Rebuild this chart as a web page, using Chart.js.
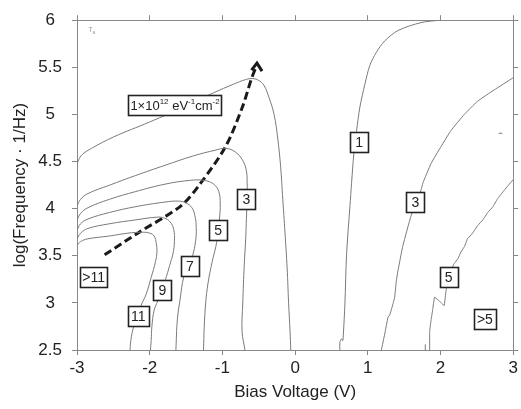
<!DOCTYPE html>
<html><head><meta charset="utf-8">
<script src="https://cdn.jsdelivr.net/npm/chart.js@4.4.0/dist/chart.umd.min.js"></script>
<style>html,body{margin:0;padding:0;background:#fff}#wrap{width:521px;height:409px}</style>
</head><body><div id="wrap"><canvas id="c" width="521" height="409"></canvas></div>
<script>
// ---- axes ----
const xTicks = [-3,-2,-1,0,1,2,3];
const xTickLabels = ['-3','-2','-1','0','1','2','3'];
const yTicks = [2.5,3,3.5,4,4.5,5,5.5,6];
const yTickLabels = ['2.5','3','3.5','4','4.5','5','5.5','6'];

// ---- contour lines (bias V, log f) ----
const c1LeftX = [-3.0,-2.97,-2.92,-2.8,-2.5,-2.0,-1.5,-1.12,-0.85,-0.68,-0.58,-0.5,-0.43,-0.36,-0.29,-0.24,-0.2,-0.17,-0.14,-0.11,-0.09,-0.07,-0.06];
const c1LeftY = [4.47,4.53,4.58,4.64,4.76,4.92,5.09,5.23,5.32,5.37,5.38,5.36,5.31,5.18,5.0,4.75,4.45,4.1,3.75,3.37,3.0,2.7,2.5];

const c3LeftX = [-3.0,-2.95,-2.85,-2.55,-2.2,-1.79,-1.4,-1.1,-0.95,-0.82,-0.72,-0.67,-0.66,-0.66,-0.67,-0.68,-0.7,-0.72,-0.73,-0.69];
const c3LeftY = [4.03,4.1,4.16,4.25,4.35,4.46,4.56,4.62,4.64,4.6,4.51,4.4,4.27,4.1,3.9,3.68,3.4,3.0,2.7,2.5];

const c5LeftX = [-3.0,-2.95,-2.85,-2.55,-2.2,-1.79,-1.45,-1.25,-1.12,-1.05,-1.03,-1.04,-1.06,-1.09,-1.14,-1.2,-1.23,-1.25,-1.26];
const c5LeftY = [3.875,3.95,4.01,4.1,4.18,4.26,4.3,4.3,4.26,4.18,4.05,3.9,3.75,3.6,3.44,3.2,3.0,2.75,2.5];

const c7LeftX = [-3.0,-2.95,-2.85,-2.55,-2.2,-1.79,-1.6,-1.5,-1.42,-1.38,-1.36,-1.37,-1.41,-1.46,-1.53,-1.58,-1.62,-1.64];
const c7LeftY = [3.77,3.84,3.89,3.96,4.02,4.07,4.08,4.06,4.01,3.93,3.8,3.65,3.5,3.39,3.28,3.05,2.82,2.5];

const c9LeftX = [-3.0,-2.95,-2.85,-2.55,-2.2,-1.9,-1.8,-1.72,-1.67,-1.66,-1.68,-1.71,-1.77,-1.83,-1.89,-1.94,-1.97,-1.98,-1.99];
const c9LeftY = [3.68,3.74,3.79,3.84,3.88,3.91,3.9,3.86,3.78,3.65,3.52,3.44,3.28,3.14,3.02,2.92,2.75,2.6,2.5];

const c11LeftX = [-3.0,-2.95,-2.85,-2.55,-2.3,-2.1,-2.0,-1.94,-1.91,-1.9,-1.92,-1.98,-2.05,-2.12,-2.16,-2.22,-2.26,-2.27];
const c11LeftY = [3.61,3.65,3.68,3.71,3.74,3.75,3.74,3.71,3.63,3.55,3.44,3.27,3.09,2.97,2.86,2.75,2.6,2.5];

const c1RightX = [0.615,0.615,0.64,0.655,0.662,0.685,0.707,0.754,0.776,0.808,0.844,0.891,0.959,1.027,1.118,1.233,1.414,1.733,1.985];
const c1RightY = [2.5,2.58,2.62,2.6,2.65,3.0,3.51,4.03,4.27,4.59,4.82,5.08,5.32,5.52,5.66,5.78,5.89,5.975,6.0];

const c3RightX = [1.186,1.232,1.278,1.30,1.346,1.369,1.391,1.414,1.483,1.597,1.733,1.756,1.87,2.007,2.144,2.327,2.509,2.737,3.0];
const c3RightY = [2.5,2.67,2.85,2.87,2.99,3.06,3.23,3.34,3.61,3.93,4.2,4.27,4.48,4.66,4.83,5.0,5.14,5.26,5.39];

const c5RightX = [1.85,1.85,1.87,1.89,1.917,1.985,2.05,2.075,2.11,2.15,2.19,2.24,2.28,2.33,2.37,2.44,2.51,2.58,2.65,2.72,2.78,2.88,3.0];
const c5RightY = [2.5,2.7,2.82,2.92,3.06,3.02,2.97,3.13,3.27,3.36,3.42,3.47,3.54,3.6,3.68,3.74,3.82,3.88,3.96,4.02,4.1,4.2,4.31];

const c5StubX = [1.79,1.79];
const c5StubY = [2.5,2.56];
const markX = [2.8,2.85];
const markY = [4.8,4.8];

// ---- dashed trend arrow ----
const arrowX = [-2.62,-2.165,-1.57,-1.3,-0.956,-0.729,-0.6,-0.535];
const arrowY = [3.51,3.74,4.03,4.27,4.66,5.07,5.38,5.51];
const headX = [-0.6,-0.525,-0.455];
const headY = [5.47,5.545,5.46];

// ---- boxed labels ----
const labelTexts = ['1×10^{12} eV^{-1}cm^{-2}','3','5','7','9','11','>11','1','3','5','>5'];
const labelX = [-1.652,-0.672,-1.059,-1.447,-1.825,-2.159,-2.77,0.879,1.654,2.11,2.61];
const labelY = [5.097,4.10,3.77,3.39,3.14,2.86,3.28,4.71,4.066,3.27,2.83];

const FONT = '"Liberation Sans", Arial, sans-serif';
const pts = (xs, ys) => xs.map((v, i) => ({x: v, y: ys[i]}));
const line = (xs, ys, tension) => ({data: pts(xs, ys), showLine: true, pointRadius: 0, borderColor: '#7a7a7a', borderWidth: 1, tension: tension, fill: false});

const datasets = [
  line(c1LeftX, c1LeftY, 0.4),
  line(c3LeftX, c3LeftY, 0.4),
  line(c5LeftX, c5LeftY, 0.4),
  line(c7LeftX, c7LeftY, 0.4),
  line(c9LeftX, c9LeftY, 0.4),
  line(c11LeftX, c11LeftY, 0.4),
  line(c1RightX, c1RightY, 0.3),
  line(c3RightX, c3RightY, 0.15),
  line(c5RightX, c5RightY, 0.05),
  line(c5StubX, c5StubY, 0),
  line(markX, markY, 0),
  {data: pts(arrowX, arrowY), showLine: true, pointRadius: 0, borderColor: '#1a1a1a', borderWidth: 3, borderDash: [8,4], tension: 0.3, fill: false},
  {data: pts(headX, headY), showLine: true, pointRadius: 0, borderColor: '#1a1a1a', borderWidth: 3, tension: 0, fill: false, borderJoinStyle: 'miter'}
];

function parseSegs(t) {
  const segs = []; const re = /\^\{([^}]*)\}/g; let last = 0, m;
  while ((m = re.exec(t))) { if (m.index > last) segs.push([t.slice(last, m.index), 0]); segs.push([m[1], 1]); last = re.lastIndex; }
  if (last < t.length) segs.push([t.slice(last), 0]);
  return segs;
}

const annot = {
  id: 'annot',
  afterDatasetsDraw(chart) {
    const {ctx, scales: {x, y}} = chart;
    ctx.save();
    // small "Ta" mark
    ctx.fillStyle = '#999'; ctx.textBaseline = 'alphabetic';
    ctx.font = '7px ' + FONT;
    const tx = x.getPixelForValue(-2.8), ty = y.getPixelForValue(5.88);
    ctx.fillText('T', tx - 3, ty);
    ctx.font = '5px ' + FONT;
    ctx.fillText('a', tx + 1, ty + 2);
    // boxed labels
    labelTexts.forEach((t, i) => {
      const segs = parseSegs(t);
      const big = segs.length > 1 ? 13 : 14;
      let w = 0;
      segs.forEach(s => { ctx.font = (s[1] ? 8 : big) + 'px ' + FONT; w += ctx.measureText(s[0]).width; });
      const cx = x.getPixelForValue(labelX[i]), cy = y.getPixelForValue(labelY[i]);
      const bw = Math.max(18, w + (t.length > 2 ? 4 : 6)), bh = 20;
      ctx.fillStyle = '#fff';
      ctx.fillRect(cx - bw / 2, cy - bh / 2, bw, bh);
      ctx.strokeStyle = '#222'; ctx.lineWidth = 1.6;
      ctx.strokeRect(Math.round(cx - bw / 2) + 0.5, Math.round(cy - bh / 2) + 0.5, Math.round(bw), bh);
      ctx.fillStyle = '#222';
      let px = cx - w / 2;
      segs.forEach(s => {
        ctx.font = (s[1] ? 8 : big) + 'px ' + FONT;
        ctx.fillText(s[0], px, cy + (s[1] ? -1 : 5));
        px += ctx.measureText(s[0]).width;
      });
    });
    ctx.restore();
  }
};

const axisCommon = {grid: {drawOnChartArea: false, tickLength: 5, color: '#888'}, border: {color: '#888'}};

new Chart(document.getElementById('c'), {
  type: 'scatter',
  data: {datasets},
  options: {
    responsive: false, animation: false, devicePixelRatio: 1,
    layout: {padding: 0},
    plugins: {legend: {display: false}, tooltip: {enabled: false}},
    scales: {
      x: {type: 'linear', position: 'bottom', min: -3, max: 3, ...axisCommon,
        afterBuildTicks: s => { s.ticks = xTicks.map(v => ({value: v})); },
        ticks: {font: {family: FONT, size: 17}, color: '#222', padding: 3, maxRotation: 0, autoSkip: false,
          callback: v => xTickLabels[xTicks.indexOf(v)]},
        title: {display: true, text: 'Bias Voltage (V)', font: {family: FONT, size: 17}, color: '#222', padding: {top: 0, bottom: 6}},
        afterFit: s => { s.height = 59; }
      },
      x2: {type: 'linear', axis: 'x', position: 'top', min: -3, max: 3, ...axisCommon,
        afterBuildTicks: s => { s.ticks = xTicks.map(v => ({value: v})); },
        ticks: {display: false},
        afterFit: s => { s.height = 14; }
      },
      y: {type: 'linear', position: 'left', min: 2.5, max: 6, ...axisCommon,
        afterBuildTicks: s => { s.ticks = yTicks.map(v => ({value: v})); },
        ticks: {font: {family: FONT, size: 17}, color: '#222', padding: 10, crossAlign: 'center', autoSkip: false,
          callback: v => yTickLabels[yTicks.indexOf(v)]},
        title: {display: true, text: 'log(Frequency \u00b7 1/Hz)', font: {family: FONT, size: 17}, color: '#222', padding: {top: 10, bottom: 0}},
        afterFit: s => { s.width = 77; }
      },
      y2: {type: 'linear', axis: 'y', position: 'right', min: 2.5, max: 6, ...axisCommon,
        afterBuildTicks: s => { s.ticks = yTicks.map(v => ({value: v})); },
        ticks: {display: false},
        afterFit: s => { s.width = 5; }
      }
    }
  },
  plugins: [annot]
});
</script>
</body></html>
